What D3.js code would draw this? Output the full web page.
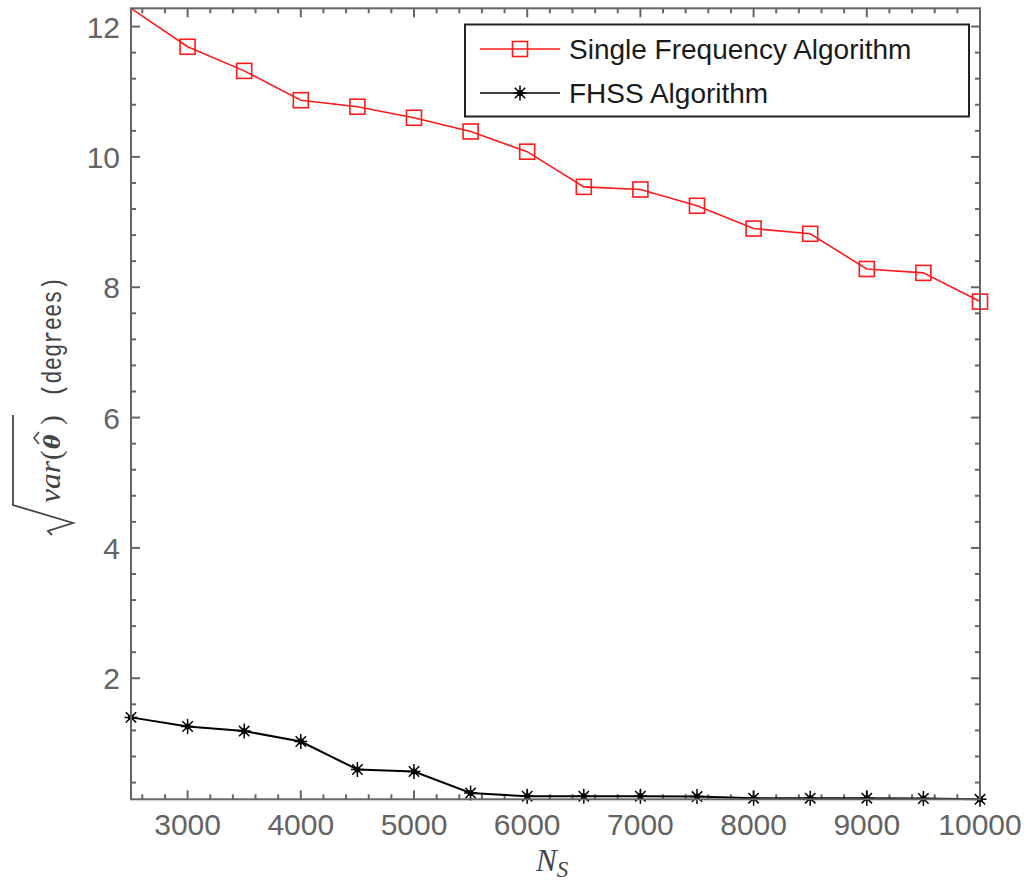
<!DOCTYPE html>
<html>
<head>
<meta charset="utf-8">
<script src="https://cdn.jsdelivr.net/npm/d3@7"></script>
<style>
  body { margin: 0; background: #fff; }
  svg { display: block; }
</style>
</head>
<body>
<div class="canvas"></div>
<script>
const samples = [2500, 3000, 3500, 4000, 4500, 5000, 5500, 6000, 6500, 7000, 7500, 8000, 8500, 9000, 9500, 10000];
const singleFreq = [12.28, 11.69, 11.32, 10.87, 10.77, 10.6, 10.39, 10.08, 9.54, 9.5, 9.25, 8.9, 8.82, 8.28, 8.22, 7.78];
const fhss = [1.4, 1.26, 1.19, 1.03, 0.6, 0.57, 0.24, 0.19, 0.19, 0.19, 0.185, 0.16, 0.16, 0.16, 0.155, 0.143];
const seriesNames = ["Single Frequency Algorithm", "FHSS Algorithm"];
const xTicks = [3000, 4000, 5000, 6000, 7000, 8000, 9000, 10000];
const yTicks = [2, 4, 6, 8, 10, 12];

const width = 1031;
const height = 881;
const plot = { left: 131, right: 980, top: 8.3, bottom: 799.3 };
const axisColor = "#666";

const svg = d3
  .select(".canvas")
  .append("svg")
  .attr("width", width)
  .attr("height", height);

const x = d3.scaleLinear().domain([2500, 10000]).range([plot.left, plot.right]);
const y = d3.scaleLinear().domain([0.143, 12.28]).range([plot.bottom, plot.top]);

const xMinor = d3.range(2600, 10000, 200).filter((v) => v % 1000 !== 0);
const yMinor = d3.range(0.4, 12.2, 0.4).filter((v) => Math.abs(v / 2 - Math.round(v / 2)) > 0.01);

// frame ticks, all pointing inward
function tickLines(g, vals, len, side) {
  g.selectAll("line")
    .data(vals)
    .enter()
    .append("line")
    .attr("x1", (d) => (side === "left" ? plot.left : side === "right" ? plot.right : x(d)))
    .attr("x2", (d) => (side === "left" ? plot.left + len : side === "right" ? plot.right - len : x(d)))
    .attr("y1", (d) => (side === "bottom" ? plot.bottom : side === "top" ? plot.top : y(d)))
    .attr("y2", (d) => (side === "bottom" ? plot.bottom - len : side === "top" ? plot.top + len : y(d)))
    .attr("stroke", axisColor)
    .attr("stroke-width", 2);
}

const frame = svg.append("g");
["left", "right"].forEach((s) => {
  tickLines(frame.append("g"), yTicks, 9, s);
  tickLines(frame.append("g"), yMinor, 5, s);
});
["bottom", "top"].forEach((s) => {
  tickLines(frame.append("g"), xTicks, 9, s);
  tickLines(frame.append("g"), xMinor, 5, s);
});

// data lines
const line = d3
  .line()
  .x((d) => x(d[0]))
  .y((d) => y(d[1]));

const redData = samples.map((s, i) => [s, singleFreq[i]]);
const blackData = samples.map((s, i) => [s, fhss[i]]);

svg.append("path")
  .datum(redData)
  .attr("d", line)
  .attr("fill", "none")
  .attr("stroke", "#ff1a1a")
  .attr("stroke-width", 1.6);

svg.append("path")
  .datum(blackData)
  .attr("d", line)
  .attr("fill", "none")
  .attr("stroke", "#000")
  .attr("stroke-width", 2);

function square(g, cx, cy) {
  g.append("rect")
    .attr("x", cx - 7.5)
    .attr("y", cy - 7.5)
    .attr("width", 15)
    .attr("height", 15)
    .attr("fill", "none")
    .attr("stroke", "#ff1a1a")
    .attr("stroke-width", 1.6);
}

function star(g, cx, cy) {
  const r = 7.5;
  const rd = 5.2;
  const p = `M${cx},${cy - r}V${cy + r}M${cx - r + 1},${cy}H${cx + r - 1}` +
    `M${cx - rd},${cy - rd}L${cx + rd},${cy + rd}M${cx - rd},${cy + rd}L${cx + rd},${cy - rd}`;
  g.append("path").attr("d", p).attr("stroke", "#000").attr("stroke-width", 1.5);
  g.append("circle").attr("cx", cx).attr("cy", cy).attr("r", 3).attr("fill", "#000");
}

// the square at the top edge is cut off in the original plot
const marks = svg.append("g");
redData
  .filter((d) => y(d[1]) > plot.top + 1)
  .forEach((d) => square(marks, x(d[0]), y(d[1])));
blackData.forEach((d) => star(marks, x(d[0]), y(d[1])));

// frame border on top
svg.append("rect")
  .attr("x", plot.left)
  .attr("y", plot.top)
  .attr("width", plot.right - plot.left)
  .attr("height", plot.bottom - plot.top)
  .attr("fill", "none")
  .attr("stroke", axisColor)
  .attr("stroke-width", 2);

// tick labels
const labelFont = "'Liberation Sans', Arial, sans-serif";
svg.append("g")
  .selectAll("text")
  .data(xTicks)
  .enter()
  .append("text")
  .attr("x", (d) => x(d))
  .attr("y", 835)
  .attr("text-anchor", "middle")
  .attr("font-family", labelFont)
  .attr("font-size", 30)
  .attr("fill", "#636363")
  .text((d) => d);

svg.append("g")
  .selectAll("text")
  .data(yTicks)
  .enter()
  .append("text")
  .attr("x", 120)
  .attr("y", (d) => y(d) + 11)
  .attr("text-anchor", "end")
  .attr("font-family", labelFont)
  .attr("font-size", 30)
  .attr("fill", "#636363")
  .text((d) => d);

// x-axis title N_S
const xTitle = svg.append("text")
  .attr("x", 536)
  .attr("y", 871)
  .attr("font-family", "'Liberation Serif', 'DejaVu Serif', serif")
  .attr("font-style", "italic")
  .attr("fill", "#444");
xTitle.append("tspan").attr("font-size", 31).text("N");
xTitle.append("tspan").attr("font-size", 23).attr("dy", 6).text("S");

// y-axis title: sqrt(var(theta-hat)) (degrees)
const yTitle = svg.append("g").attr("transform", "translate(60, 407) rotate(-90)");
yTitle.append("path")
  .attr("d", "M-128,-8L-124,-12L-116,13L-98,-47H-8")
  .attr("fill", "none")
  .attr("stroke", "#444")
  .attr("stroke-width", 1.8);
yTitle.append("text")
  .attr("x", -96)
  .attr("y", 0)
  .attr("textLength", 42)
  .attr("lengthAdjust", "spacingAndGlyphs")
  .attr("font-family", "'Liberation Serif', serif")
  .attr("font-style", "italic")
  .attr("font-size", 29)
  .attr("fill", "#444")
  .text("var");
yTitle.append("text")
  .attr("x", -53)
  .attr("y", 1)
  .attr("font-family", "'Liberation Serif', serif")
  .attr("font-size", 29)
  .attr("fill", "#444")
  .text("(");
yTitle.append("text")
  .attr("x", -42)
  .attr("y", 0)
  .attr("font-family", "'DejaVu Serif', serif")
  .attr("font-style", "italic")
  .attr("font-weight", "bold")
  .attr("font-size", 22)
  .attr("fill", "#444")
  .text("θ");
yTitle.append("path")
  .attr("d", "M-37,-21L-31,-26L-25,-21")
  .attr("fill", "none")
  .attr("stroke", "#444")
  .attr("stroke-width", 1.5);
yTitle.append("text")
  .attr("x", -18)
  .attr("y", 1)
  .attr("font-family", "'Liberation Serif', serif")
  .attr("font-size", 29)
  .attr("fill", "#444")
  .text(")");
yTitle.append("text")
  .attr("x", 10)
  .attr("y", 1)
  .attr("textLength", 120)
  .attr("lengthAdjust", "spacingAndGlyphs")
  .attr("font-family", "'Liberation Mono', 'DejaVu Sans Mono', monospace")
  .attr("font-size", 27)
  .attr("fill", "#444")
  .text("(degrees)");

// legend
const legend = svg.append("g");
legend.append("rect")
  .attr("x", 465)
  .attr("y", 24.5)
  .attr("width", 504)
  .attr("height", 92)
  .attr("fill", "#fff")
  .attr("stroke", "#222")
  .attr("stroke-width", 2);

const rows = [49, 93];
legend.append("line").attr("x1", 480).attr("x2", 560).attr("y1", rows[0]).attr("y2", rows[0])
  .attr("stroke", "#ff1a1a").attr("stroke-width", 1.6);
square(legend, 520, rows[0]);
legend.append("line").attr("x1", 480).attr("x2", 560).attr("y1", rows[1]).attr("y2", rows[1])
  .attr("stroke", "#000").attr("stroke-width", 1.6);
star(legend, 520, rows[1]);

legend.selectAll("text.leg")
  .data(seriesNames)
  .enter()
  .append("text")
  .attr("class", "leg")
  .attr("x", 569)
  .attr("y", (d, i) => rows[i] + 10)
  .attr("font-family", labelFont)
  .attr("font-size", 28)
  .attr("fill", "#1a1a1a")
  .text((d) => d);
</script>
</body>
</html>
